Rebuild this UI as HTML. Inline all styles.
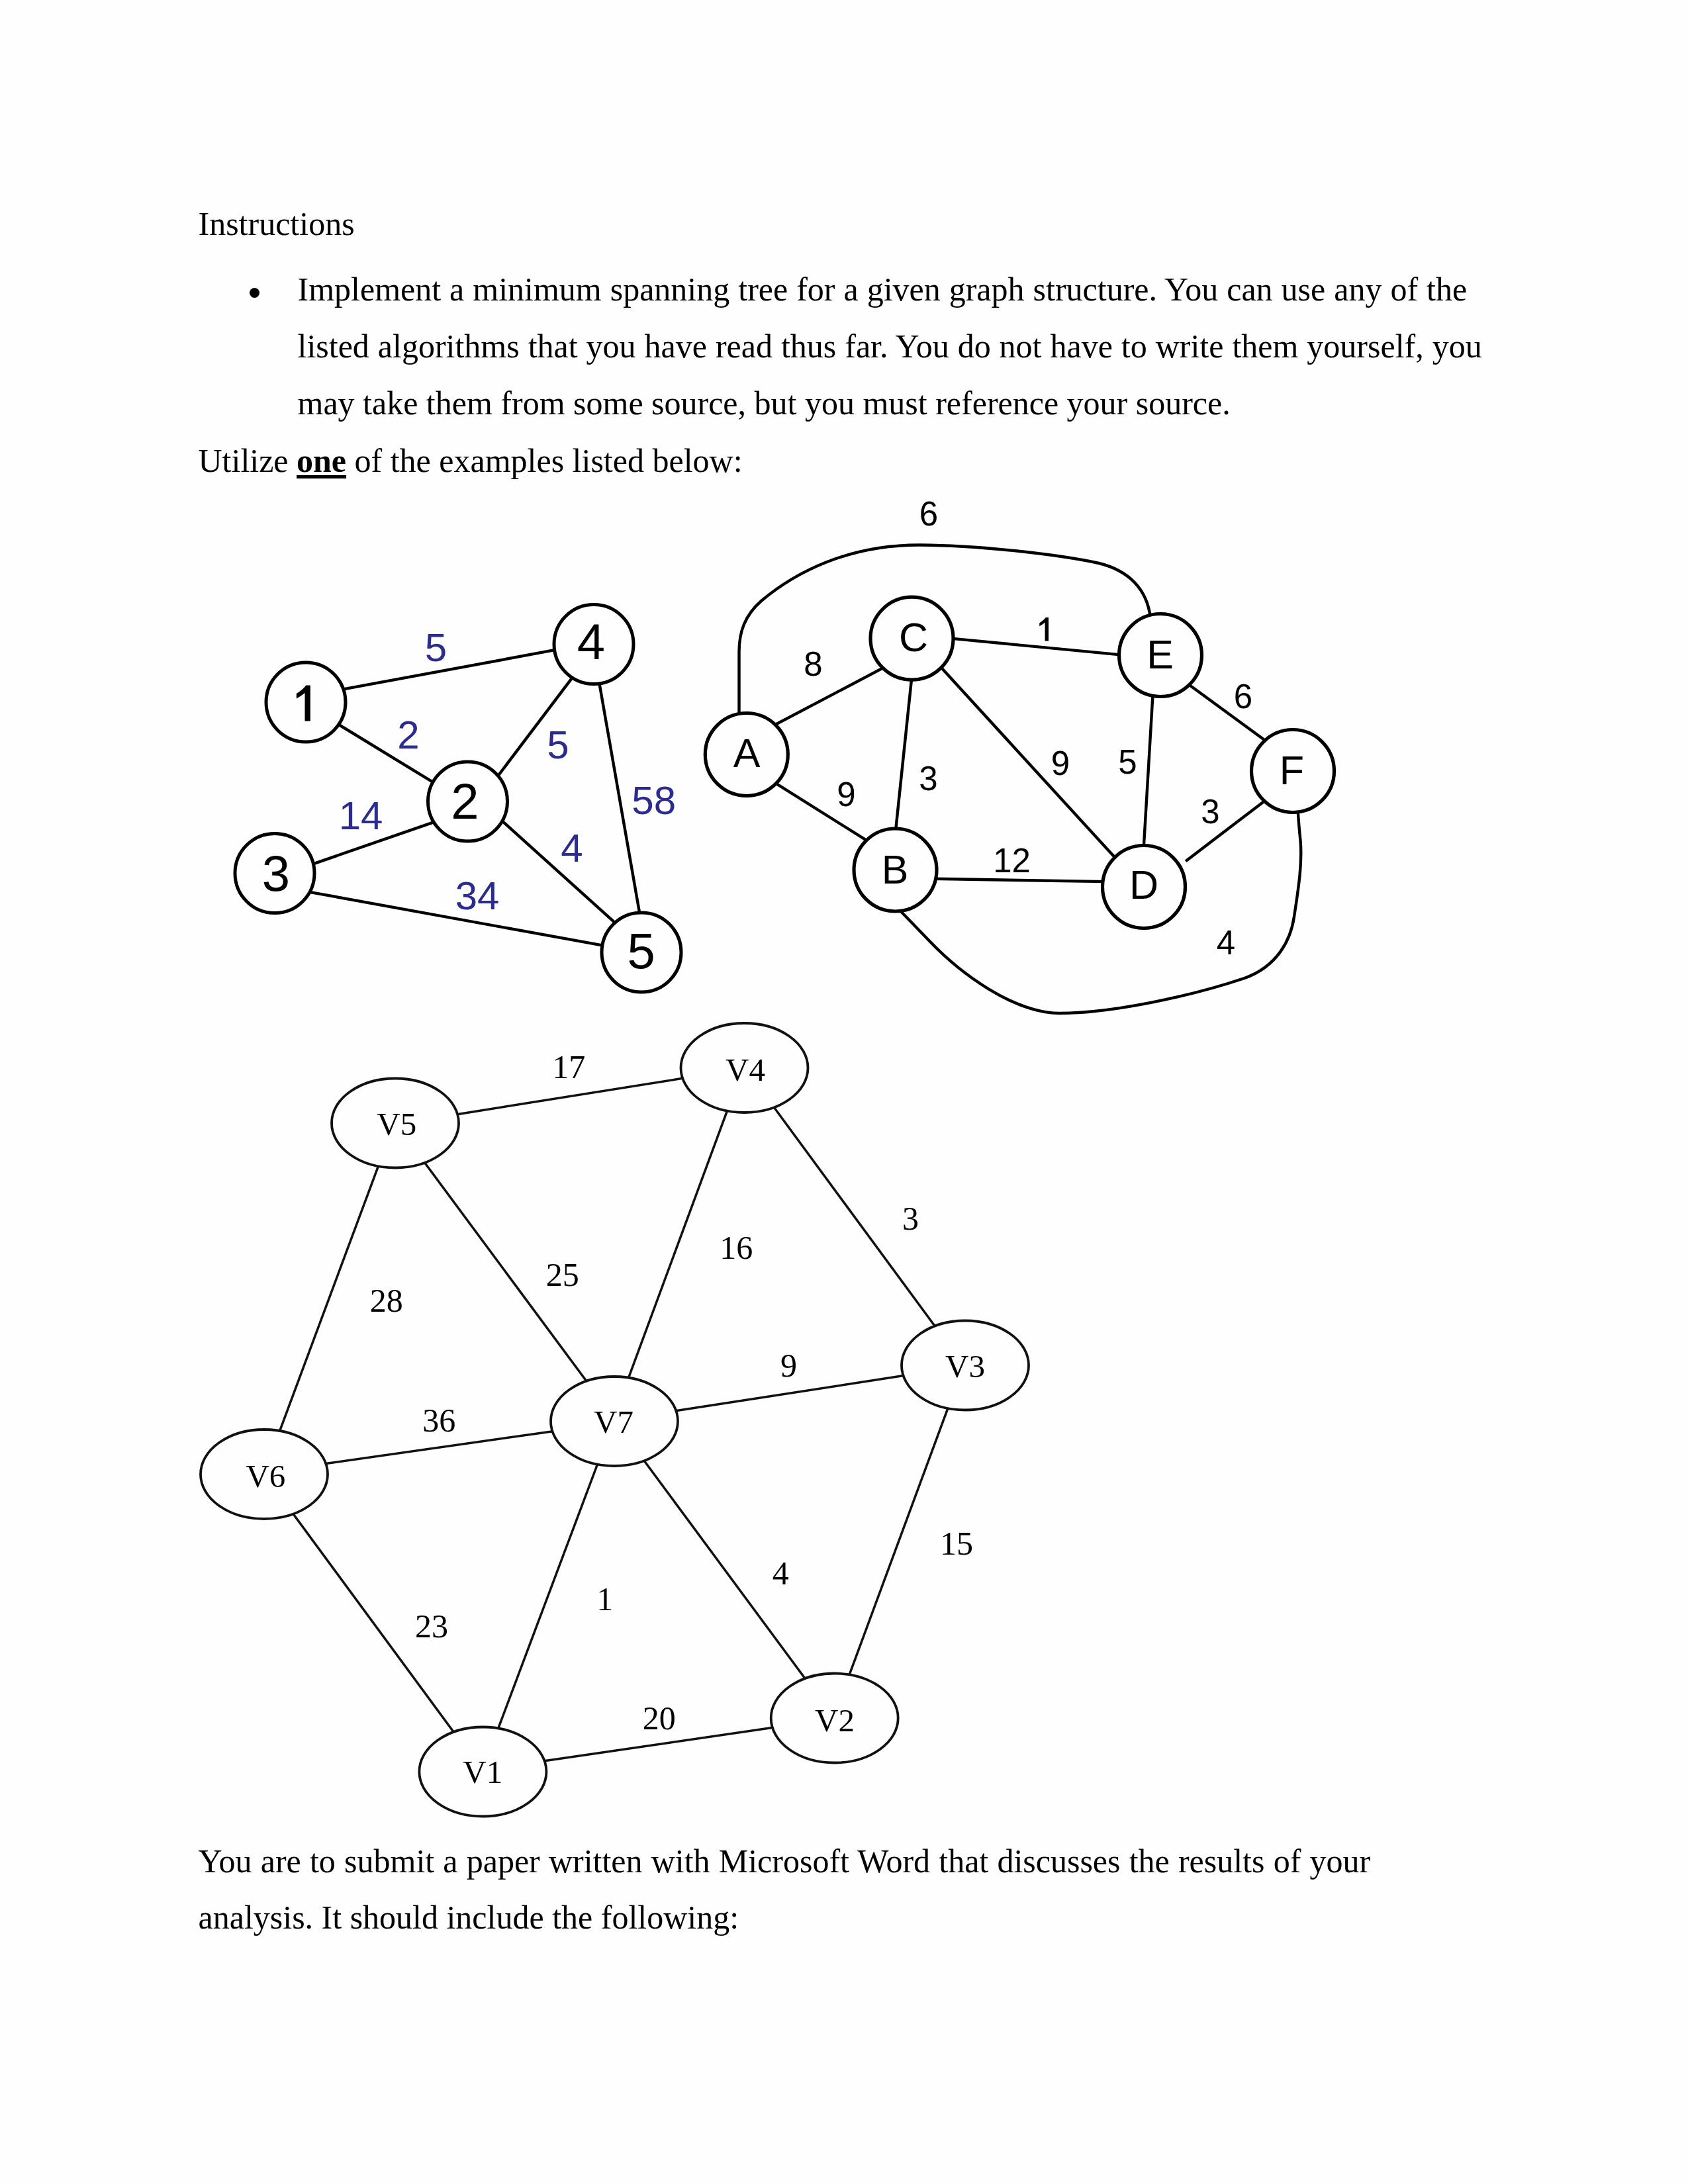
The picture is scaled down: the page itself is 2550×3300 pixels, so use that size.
<!DOCTYPE html>
<html><head><meta charset="utf-8"><title>Instructions</title>
<style>
html,body{margin:0;padding:0;background:#fefefe;}
body{width:2550px;height:3300px;position:relative;overflow:hidden;}
.ln{position:absolute;white-space:nowrap;font-family:"Liberation Serif",serif;font-size:50px;line-height:86px;color:#000;}
.ln u{text-decoration-thickness:5px;text-underline-offset:5px;}
.bul{position:absolute;width:15px;height:15px;border-radius:50%;background:#000;}
svg{position:absolute;left:0;top:0;}
.s{font-family:"Liberation Sans",sans-serif;}
.r{font-family:"Liberation Serif",serif;}
</style></head>
<body>
<div class="ln" style="left:299.5px;top:295.12px;">Instructions</div>
<div class="bul" style="left:376.5px;top:435px"></div>
<div class="ln" style="left:449.5px;top:394.12px;word-spacing:0.49px">Implement a minimum spanning tree for a given graph structure. You can use any of the</div>
<div class="ln" style="left:449.5px;top:480.12px;word-spacing:0.47px">listed algorithms that you have read thus far. You do not have to write them yourself, you</div>
<div class="ln" style="left:449.5px;top:566.12px;">may take them from some source, but you must reference your source.</div>
<div class="ln" style="left:299.5px;top:653.12px;">Utilize <b><u>one</u></b> of the examples listed below:</div>
<div class="ln" style="left:299.5px;top:2768.53px;word-spacing:0.67px">You are to submit a paper written with Microsoft Word that discusses the results of your</div>
<div class="ln" style="left:299.5px;top:2854.43px;">analysis. It should include the following:</div>

<svg width="2550" height="3300" viewBox="0 0 2550 3300">
<line x1="514.6" y1="1042.2" x2="843.2" y2="981.2" stroke="#000" stroke-width="4.4"/>
<line x1="507.4" y1="1092.2" x2="657.8" y2="1184.2" stroke="#000" stroke-width="4.4"/>
<line x1="748.4" y1="1177.5" x2="867.4" y2="1020.1" stroke="#000" stroke-width="4.4"/>
<line x1="904.6" y1="1027.8" x2="967.1" y2="1384.9" stroke="#000" stroke-width="4.4"/>
<line x1="469.6" y1="1306.6" x2="658.6" y2="1241.1" stroke="#000" stroke-width="4.4"/>
<line x1="466.1" y1="1347.6" x2="913.9" y2="1429.2" stroke="#000" stroke-width="4.4"/>
<line x1="756.2" y1="1238.3" x2="933.9" y2="1398.7" stroke="#000" stroke-width="4.4"/>
<circle cx="462" cy="1061" r="60" fill="#fefefe" stroke="#000" stroke-width="5"/>
<circle cx="897" cy="973.5" r="60" fill="#fefefe" stroke="#000" stroke-width="5"/>
<circle cx="706.5" cy="1211" r="60" fill="#fefefe" stroke="#000" stroke-width="5"/>
<circle cx="415" cy="1319.5" r="60" fill="#fefefe" stroke="#000" stroke-width="5"/>
<circle cx="969" cy="1439" r="60" fill="#fefefe" stroke="#000" stroke-width="5"/>
<path d="M-8.3,0 L0,0 L0,-54 L-6.5,-54 C-10.5,-49 -15.5,-44.5 -21,-41.5 L-21,-34 C-16,-36.5 -12,-39.5 -8.3,-42.5 Z" transform="translate(468.8,1089.6)"/>
<text x="893" y="996" class="s" font-size="76" text-anchor="middle">4</text>
<text x="702.5" y="1237" class="s" font-size="76" text-anchor="middle">2</text>
<text x="417" y="1346" class="s" font-size="76" text-anchor="middle">3</text>
<text x="968.7" y="1463" class="s" font-size="76" text-anchor="middle">5</text>
<text x="658.5" y="999" class="s" font-size="60" fill="#2c2c8e" text-anchor="middle">5</text>
<text x="617" y="1131" class="s" font-size="60" fill="#2c2c8e" text-anchor="middle">2</text>
<text x="843" y="1146" class="s" font-size="60" fill="#2c2c8e" text-anchor="middle">5</text>
<text x="987.7" y="1230" class="s" font-size="60" fill="#2c2c8e" text-anchor="middle">58</text>
<text x="545" y="1253" class="s" font-size="60" fill="#2c2c8e" text-anchor="middle">14</text>
<text x="864" y="1302" class="s" font-size="60" fill="#2c2c8e" text-anchor="middle">4</text>
<text x="721" y="1374" class="s" font-size="60" fill="#2c2c8e" text-anchor="middle">34</text>
<line x1="1167.3" y1="1097.0" x2="1336.7" y2="1007.8" stroke="#000" stroke-width="4.4"/>
<line x1="1166.4" y1="1180.2" x2="1319.8" y2="1276.5" stroke="#000" stroke-width="4.4"/>
<line x1="1377.3" y1="1023.7" x2="1352.5" y2="1260.0" stroke="#000" stroke-width="4.4"/>
<line x1="1433.7" y1="964.4" x2="1695.2" y2="989.6" stroke="#000" stroke-width="4.4"/>
<line x1="1419.0" y1="1005.6" x2="1687.1" y2="1298.8" stroke="#000" stroke-width="4.4"/>
<line x1="1408.0" y1="1327.8" x2="1670.6" y2="1332.1" stroke="#000" stroke-width="4.4"/>
<line x1="1741.7" y1="1046.8" x2="1727.6" y2="1283.0" stroke="#000" stroke-width="4.4"/>
<line x1="1793.0" y1="1032.2" x2="1913.2" y2="1120.2" stroke="#000" stroke-width="4.4"/>
<line x1="1791.2" y1="1301.2" x2="1914" y2="1207.4" stroke="#000" stroke-width="4.4"/>
<path d="M1116.5,1080 L1116.5,985 C1116.5,955 1125,930 1150,908 C1200,866 1280,823 1390,823.5 C1480,824 1600,838 1660,851 C1705,862 1733,890 1738,934" fill="none" stroke="#000" stroke-width="4.4"/>
<path d="M1355,1371 L1404,1421.8 C1450,1470 1530,1530 1600,1531 C1680,1531 1800,1505 1880,1478 C1930,1460 1950,1420 1955,1385 C1962,1340 1968,1300 1964,1265 C1962,1245 1961,1232 1960.6,1222" fill="none" stroke="#000" stroke-width="4.4"/>
<circle cx="1127.8" cy="1140" r="62.5" fill="#fefefe" stroke="#000" stroke-width="5.2"/>
<circle cx="1377.5" cy="964.7" r="62.5" fill="#fefefe" stroke="#000" stroke-width="5.2"/>
<circle cx="1753" cy="990" r="62.5" fill="#fefefe" stroke="#000" stroke-width="5.2"/>
<circle cx="1953" cy="1165" r="62.5" fill="#fefefe" stroke="#000" stroke-width="5.2"/>
<circle cx="1352.5" cy="1314.5" r="62.5" fill="#fefefe" stroke="#000" stroke-width="5.2"/>
<circle cx="1728" cy="1340" r="62.5" fill="#fefefe" stroke="#000" stroke-width="5.2"/>
<text x="1128" y="1159" class="s" font-size="61" text-anchor="middle">A</text>
<text x="1380" y="983.5" class="s" font-size="61" text-anchor="middle">C</text>
<text x="1752.5" y="1009.5" class="s" font-size="61" text-anchor="middle">E</text>
<text x="1951.5" y="1184.5" class="s" font-size="61" text-anchor="middle">F</text>
<text x="1352" y="1335" class="s" font-size="61" text-anchor="middle">B</text>
<text x="1728" y="1358" class="s" font-size="61" text-anchor="middle">D</text>
<text x="1403" y="794" class="s" font-size="51" text-anchor="middle">6</text>
<text x="1228.5" y="1021" class="s" font-size="51" text-anchor="middle">8</text>
<text x="1278.4" y="1218" class="s" font-size="51" text-anchor="middle">9</text>
<text x="1402.5" y="1194" class="s" font-size="51" text-anchor="middle">3</text>
<path d="M-8.3,0 L0,0 L0,-54 L-6.5,-54 C-10.5,-49 -15.5,-44.5 -21,-41.5 L-21,-34 C-16,-36.5 -12,-39.5 -8.3,-42.5 Z" transform="translate(1584,968.4) scale(0.655)"/>
<text x="1602" y="1171" class="s" font-size="51" text-anchor="middle">9</text>
<text x="1703.5" y="1169" class="s" font-size="51" text-anchor="middle">5</text>
<text x="1878" y="1070" class="s" font-size="51" text-anchor="middle">6</text>
<text x="1828.5" y="1244" class="s" font-size="51" text-anchor="middle">3</text>
<text x="1528.5" y="1318" class="s" font-size="51" text-anchor="middle">12</text>
<text x="1852" y="1442" class="s" font-size="51" text-anchor="middle">4</text>
<line x1="689.1" y1="1683.9" x2="1032.9" y2="1629.1" stroke="#111" stroke-width="3.5"/>
<line x1="572.1" y1="1760.4" x2="422.5" y2="2162.3" stroke="#111" stroke-width="3.5"/>
<line x1="640.4" y1="1755.2" x2="886.6" y2="2087.8" stroke="#111" stroke-width="3.5"/>
<line x1="1098.9" y1="1677.4" x2="948.5" y2="2084.6" stroke="#111" stroke-width="3.5"/>
<line x1="1169.7" y1="1673.8" x2="1413.4" y2="2005.3" stroke="#111" stroke-width="3.5"/>
<line x1="1019.1" y1="2131.9" x2="1368.4" y2="2078.1" stroke="#111" stroke-width="3.5"/>
<line x1="490.1" y1="2211.8" x2="838.5" y2="2162.2" stroke="#111" stroke-width="3.5"/>
<line x1="442.0" y1="2286.2" x2="688.0" y2="2620.8" stroke="#111" stroke-width="3.5"/>
<line x1="903.1" y1="2211.0" x2="751.9" y2="2613.6" stroke="#111" stroke-width="3.5"/>
<line x1="971.7" y1="2205.2" x2="1217.3" y2="2537.8" stroke="#111" stroke-width="3.5"/>
<line x1="1432.1" y1="2127.4" x2="1282.7" y2="2531.6" stroke="#111" stroke-width="3.5"/>
<line x1="820.6" y1="2660.9" x2="1169.9" y2="2610.1" stroke="#111" stroke-width="3.5"/>
<ellipse cx="597" cy="1697" rx="96" ry="67.5" fill="#fefefe" stroke="#111" stroke-width="3.8"/>
<ellipse cx="1124.5" cy="1613.5" rx="96" ry="67.5" fill="#fefefe" stroke="#111" stroke-width="3.8"/>
<ellipse cx="1458" cy="2063" rx="96" ry="67.5" fill="#fefefe" stroke="#111" stroke-width="3.8"/>
<ellipse cx="928" cy="2147.5" rx="96" ry="67.5" fill="#fefefe" stroke="#111" stroke-width="3.8"/>
<ellipse cx="399" cy="2227.5" rx="96" ry="67.5" fill="#fefefe" stroke="#111" stroke-width="3.8"/>
<ellipse cx="729.4" cy="2677" rx="96" ry="67.5" fill="#fefefe" stroke="#111" stroke-width="3.8"/>
<ellipse cx="1260.7" cy="2596" rx="96" ry="67.5" fill="#fefefe" stroke="#111" stroke-width="3.8"/>
<text x="599.3" y="1715" class="r" font-size="49" text-anchor="middle">V5</text>
<text x="1126" y="1633" class="r" font-size="49" text-anchor="middle">V4</text>
<text x="1458" y="2081" class="r" font-size="49" text-anchor="middle">V3</text>
<text x="927" y="2165" class="r" font-size="49" text-anchor="middle">V7</text>
<text x="401.4" y="2247" class="r" font-size="49" text-anchor="middle">V6</text>
<text x="729.2" y="2694" class="r" font-size="49" text-anchor="middle">V1</text>
<text x="1261" y="2616" class="r" font-size="49" text-anchor="middle">V2</text>
<text x="859.3" y="1629" class="r" font-size="50" text-anchor="middle">17</text>
<text x="1375.5" y="1858" class="r" font-size="50" text-anchor="middle">3</text>
<text x="1112.2" y="1902" class="r" font-size="50" text-anchor="middle">16</text>
<text x="849.7" y="1943" class="r" font-size="50" text-anchor="middle">25</text>
<text x="583.8" y="1982" class="r" font-size="50" text-anchor="middle">28</text>
<text x="1191.5" y="2080" class="r" font-size="50" text-anchor="middle">9</text>
<text x="663.3" y="2163" class="r" font-size="50" text-anchor="middle">36</text>
<text x="1445" y="2349" class="r" font-size="50" text-anchor="middle">15</text>
<text x="1179.3" y="2394" class="r" font-size="50" text-anchor="middle">4</text>
<text x="913.8" y="2433" class="r" font-size="50" text-anchor="middle">1</text>
<text x="652" y="2474" class="r" font-size="50" text-anchor="middle">23</text>
<text x="995.7" y="2613" class="r" font-size="50" text-anchor="middle">20</text>
</svg>
</body></html>
